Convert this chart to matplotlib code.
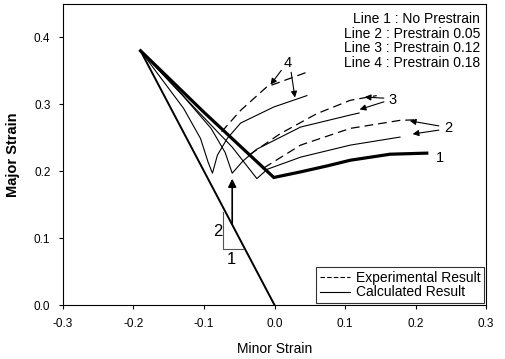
import matplotlib
matplotlib.use('Agg')
import matplotlib.pyplot as plt
from matplotlib.lines import Line2D

plt.rcParams['font.family'] = ['Liberation Sans', 'DejaVu Sans']

# uniaxial tension limit: major = -2 * minor
uni_x = [-0.19, 0.0]
uni_y = [0.38, 0.0]

# calculated strain paths
calc1_x = [-0.19, -0.10, -0.001, 0.037, 0.075, 0.1075, 0.164, 0.216]
calc1_y = [0.38, 0.288, 0.1906, 0.199, 0.208, 0.2164, 0.2254, 0.227]
calc2_x = [-0.19, -0.12, -0.06, -0.025, -0.010, 0.037, 0.1075, 0.178]
calc2_y = [0.38, 0.302, 0.236, 0.189, 0.203, 0.221, 0.239, 0.251]
calc3_x = [-0.19, -0.13, -0.09, -0.07, -0.06, -0.045, -0.025, 0.037, 0.1075, 0.12]
calc3_y = [0.38, 0.313, 0.264, 0.228, 0.197, 0.215, 0.233, 0.266, 0.284, 0.287]
calc4_x = [-0.19, -0.129, -0.105, -0.094, -0.088, -0.081, -0.067, -0.048, -0.001, 0.046]
calc4_y = [0.38, 0.294, 0.249, 0.213, 0.197, 0.224, 0.249, 0.272, 0.296, 0.313]

# experimental strain paths
exp2_x = [-0.015, 0.037, 0.1075, 0.178, 0.205]
exp2_y = [0.205, 0.239, 0.264, 0.276, 0.277]
exp3_x = [-0.035, 0.008, 0.06, 0.1075, 0.145]
exp3_y = [0.225, 0.256, 0.286, 0.306, 0.313]
exp4_x = [-0.075, -0.048, -0.011, 0.046]
exp4_y = [0.259, 0.291, 0.326, 0.348]

line_notes = ['Line 1 : No Prestrain', 'Line 2 : Prestrain 0.05',
              'Line 3 : Prestrain 0.12', 'Line 4 : Prestrain 0.18']

fig = plt.figure(figsize=(5.06, 3.59), dpi=100)
ax = fig.add_axes([0.1245, 0.1504, 0.836, 0.8386])

ax.plot(uni_x, uni_y, color='black', lw=1.4)
ax.plot(calc1_x, calc1_y, color='black', lw=2.3, solid_joinstyle='miter')
for cx, cy in [(calc2_x, calc2_y), (calc3_x, calc3_y), (calc4_x, calc4_y)]:
    ax.plot(cx, cy, color='black', lw=0.8)
for ex, ey in [(exp2_x, exp2_y), (exp3_x, exp3_y), (exp4_x, exp4_y)]:
    ax.plot(ex, ey, color='black', lw=0.9, dashes=(7, 4))

# slope triangle and arrow
ax.plot([-0.073, -0.073, -0.045], [0.139, 0.084, 0.084], color='#555555', lw=0.8)
ax.text(-0.074, 0.11, '2', ha='right', va='center', fontsize=12)
ax.text(-0.061, 0.079, '1', ha='center', va='top', fontsize=12)
ax.annotate('', xy=(-0.06, 0.193), xytext=(-0.06, 0.118),
            arrowprops=dict(arrowstyle='-|>', color='black', lw=1.2, mutation_scale=12))

# line number callouts
arrow = dict(arrowstyle='-|>', color='black', lw=0.8, mutation_scale=9)
ax.text(0.018, 0.361, '4', ha='center', va='center', fontsize=10.5)
ax.annotate('', xy=(-0.008, 0.326), xytext=(0.012, 0.354), arrowprops=arrow)
ax.annotate('', xy=(0.0296, 0.306), xytext=(0.023, 0.352), arrowprops=arrow)
ax.text(0.168, 0.307, '3', ha='center', va='center', fontsize=10.5)
ax.annotate('', xy=(0.124, 0.311), xytext=(0.159, 0.309), arrowprops=arrow)
ax.annotate('', xy=(0.117, 0.291), xytext=(0.159, 0.305), arrowprops=arrow)
ax.text(0.246, 0.264, '2', ha='center', va='center', fontsize=10.5)
ax.annotate('', xy=(0.188, 0.276), xytext=(0.237, 0.267), arrowprops=arrow)
ax.annotate('', xy=(0.192, 0.255), xytext=(0.237, 0.262), arrowprops=arrow)
ax.text(0.234, 0.219, '1', ha='center', va='center', fontsize=10.5)

note_y = [0.428, 0.405, 0.3836, 0.362]
for note, ny in zip(line_notes, note_y):
    ax.text(0.2917, ny, note, ha='right', va='center', fontsize=10)

handles = [Line2D([], [], color='black', lw=0.8, dashes=(4, 2)),
           Line2D([], [], color='black', lw=0.8)]
leg = ax.legend(handles, ['Experimental Result', 'Calculated Result'],
                loc='lower right', fontsize=10, frameon=True, fancybox=False,
                edgecolor='black', handlelength=2.2, handletextpad=0.4,
                borderpad=0.25, labelspacing=0.05, borderaxespad=0.15)
leg.get_frame().set_linewidth(0.8)

ax.set_xlim(-0.3, 0.3)
ax.set_ylim(0.0, 0.45)
ax.set_xticks([-0.3, -0.2, -0.1, 0.0, 0.1, 0.2, 0.3])
ax.set_yticks([0.0, 0.1, 0.2, 0.3, 0.4])
ax.set_xticklabels(['-0.3', '-0.2', '-0.1', '0.0', '0.1', '0.2', '0.3'])
ax.set_yticklabels(['0.0', '0.1', '0.2', '0.3', '0.4'])
ax.tick_params(direction='out', length=3, width=0.8, labelsize=8.5, pad=6)
for s in ax.spines.values():
    s.set_linewidth(0.8)

ax.set_xlabel('Minor Strain', fontsize=10, labelpad=9)
ax.set_ylabel('Major Strain', fontsize=10.5, fontweight='bold', labelpad=10)

fig.savefig('out.png', dpi=100)
